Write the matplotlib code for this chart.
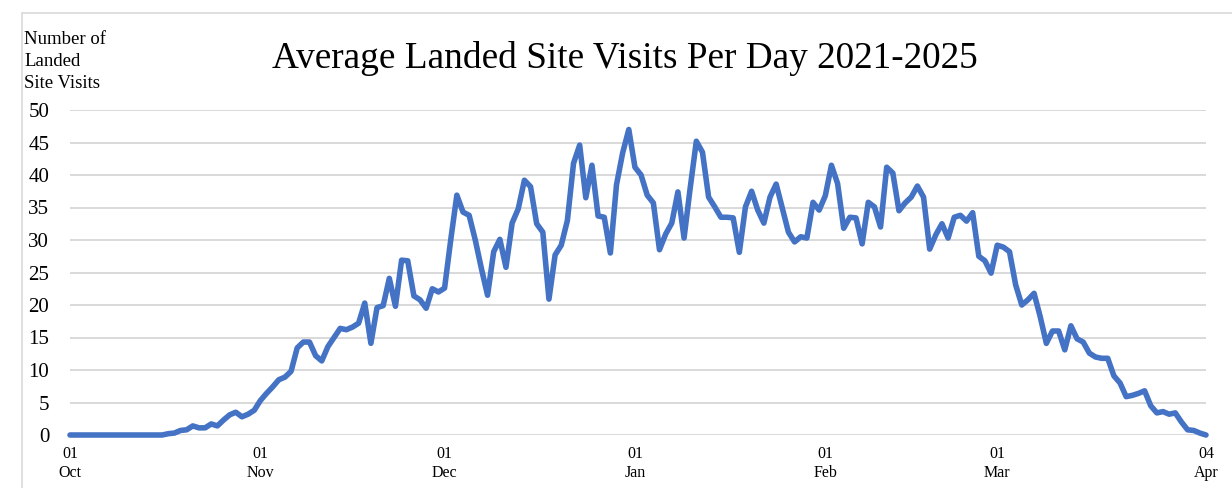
import matplotlib
matplotlib.use("Agg")
from matplotlib import pyplot as plt
from matplotlib.patches import Rectangle
import pandas as pd

# average visits per day, 01 Oct .. 04 Apr (one value per day)
visits = [
    0, 0, 0, 0, 0, 0, 0, 0, 0, 0, 0, 0, 0, 0, 0, 0,
    0.2, 0.3, 0.7, 0.8, 1.4, 1.1, 1.1, 1.7, 1.4, 2.3, 3.1, 3.5, 2.8, 3.2, 3.8,
    5.3, 6.4, 7.4, 8.5, 8.9, 9.8, 13.4, 14.3, 14.3, 12.2, 11.4, 13.6, 15.0, 16.4,
    16.2, 16.6, 17.2, 20.3, 14.1, 19.6, 19.9, 24.1, 19.8, 26.9, 26.8, 21.4, 20.8,
    19.5, 22.5, 22.0,
    22.6, 30.0, 36.9, 34.3, 33.8, 30.0, 25.6, 21.5, 28.2, 30.1, 25.8, 32.6, 34.8,
    39.2, 38.2, 32.5, 31.2, 20.9, 27.7, 29.2, 33.0, 41.8, 44.6, 36.5, 41.5, 33.7,
    33.5, 28.0, 38.5, 43.4, 47.0,
    41.2, 40.0, 36.9, 35.7, 28.5, 30.9, 32.6, 37.4, 30.3, 38.0, 45.2, 43.5, 36.6,
    35.1, 33.5, 33.5, 33.4, 28.1, 35.1, 37.5, 34.6, 32.6, 36.6, 38.6, 34.9, 31.2,
    29.7, 30.5, 30.3, 35.8, 34.6,
    36.8, 41.5, 38.7, 31.8, 33.5, 33.4, 29.4, 35.8, 35.1, 32.0, 41.2, 40.3, 34.5,
    35.7, 36.6, 38.3, 36.6, 28.6, 30.8, 32.5, 30.3, 33.5, 33.8, 32.9, 34.2, 27.5,
    26.8, 24.9,
    29.2, 28.9, 28.2, 23.1, 20.0, 20.8, 21.8, 18.2, 14.1, 16.0, 16.0, 13.1, 16.8,
    14.8, 14.3, 12.6, 12.0, 11.8, 11.8, 9.1, 8.0, 5.9, 6.1, 6.4, 6.8, 4.5, 3.4,
    3.6, 3.2, 3.4, 2.0,
    0.8, 0.7, 0.3, 0.0,
]
days = pd.date_range("2022-10-01", "2023-04-04", freq="D")

tick_days = pd.to_datetime(["2022-10-01", "2022-11-01", "2022-12-01", "2023-01-01",
                            "2023-02-01", "2023-03-01", "2023-04-04"])
tick_labels = ["01\nOct", "01\nNov", "01\nDec", "01\nJan", "01\nFeb", "01\nMar", "04\nApr"]
y_ticks = [0, 5, 10, 15, 20, 25, 30, 35, 40, 45, 50]

plt.rcParams["font.family"] = ["Liberation Serif", "DejaVu Serif"]

W, H = 1232, 488
fig = plt.figure(figsize=(W / 100, H / 100), dpi=100)
ax = fig.add_axes([70 / W, 1 - 435 / H, (1206 - 70) / W, (435 - 110) / H])

ax.plot(days, visits, color="#4472C4", lw=4.0, solid_joinstyle="round",
        solid_capstyle="round", clip_on=False, zorder=3)

ax.set_xlim(days[0], days[-1])
ax.set_ylim(0, 50)
ax.set_yticks(y_ticks)
ax.set_xticks(tick_days, tick_labels)
ax.grid(axis="y", color="#d9d9d9", lw=1.4)
ax.set_axisbelow(True)
for s in ax.spines.values():
    s.set_visible(False)
ax.tick_params(axis="y", length=0, pad=15, labelsize=15)
ax.tick_params(axis="x", length=0, pad=8, labelsize=11.5)
for lab in ax.get_xticklabels():
    lab.set_linespacing(1.25)

fig.text(625 / W, 1 - 58 / H, "Average Landed Site Visits Per Day 2021-2025",
         fontsize=26.8, ha="center", va="center")
fig.text(24 / W, 1 - 31 / H, "Number of\nLanded\nSite Visits", fontsize=13.5,
         ha="left", va="top", linespacing=1.4)

# light frame around chart area
fig.add_artist(Rectangle((22 / W, -0.1), 1.2, 1 - 13 / H + 0.1, transform=fig.transFigure,
                         fill=False, edgecolor="#d9d9d9", lw=1.2))

fig.savefig("out.png", dpi=100)
